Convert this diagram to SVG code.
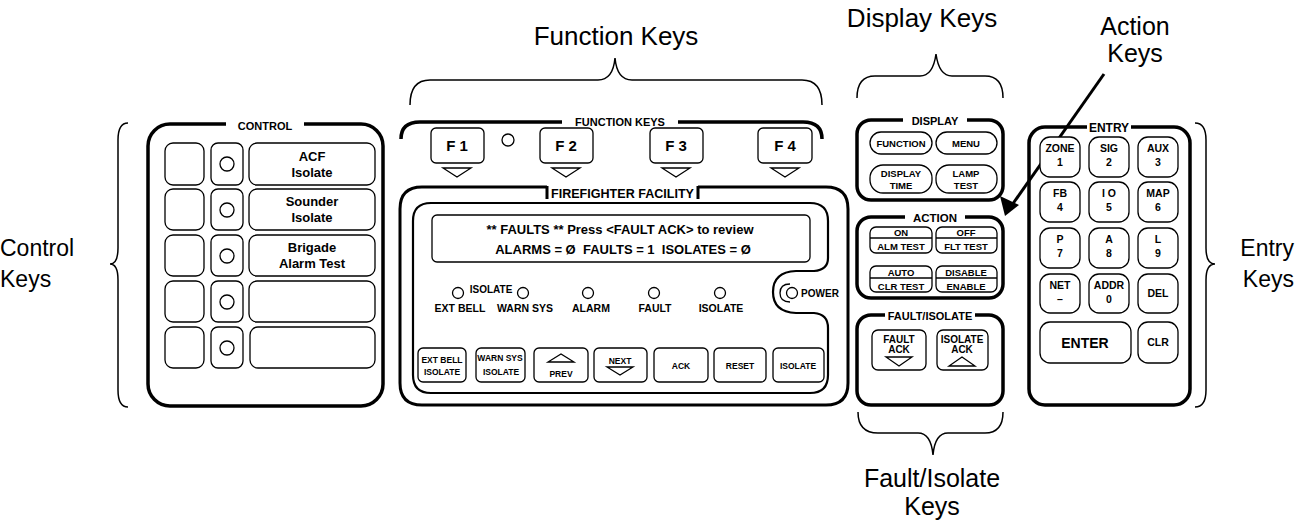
<svg xmlns="http://www.w3.org/2000/svg" width="1295" height="521" viewBox="0 0 1295 521">
<style>
.lbl{font-family:"Liberation Sans",Arial,sans-serif;fill:#000}
.b{font-family:"Liberation Sans",Arial,sans-serif;font-weight:bold;fill:#000;text-anchor:middle}
.frame{fill:none;stroke:#000;stroke-width:3.5}
.key{fill:#fff;stroke:#000;stroke-width:1.3}
.thin{fill:none;stroke:#000;stroke-width:1.3}
.brace{fill:none;stroke:#000;stroke-width:1.5}
.gap{fill:#fff;stroke:none}
</style>
<rect width="1295" height="521" fill="#fff"/>

<!-- outer labels -->
<g id="labels">
<text class="lbl" x="0" y="256" font-size="23">Control</text>
<text class="lbl" x="0" y="287" font-size="23">Keys</text>
<text class="lbl" x="616" y="45" font-size="26" text-anchor="middle">Function Keys</text>
<text class="lbl" x="922" y="27" font-size="26" text-anchor="middle">Display Keys</text>
<text class="lbl" x="1135" y="35" font-size="25" text-anchor="middle">Action</text>
<text class="lbl" x="1135" y="62" font-size="25" text-anchor="middle">Keys</text>
<text class="lbl" x="1294" y="256" font-size="23" text-anchor="end">Entry</text>
<text class="lbl" x="1294" y="287" font-size="23" text-anchor="end">Keys</text>
<text class="lbl" x="932" y="487" font-size="25" text-anchor="middle">Fault/Isolate</text>
<text class="lbl" x="932" y="515" font-size="25" text-anchor="middle">Keys</text>
</g>

<!-- braces -->
<g id="braces">
<path class="brace" d="M128,123 Q118,123 118,140 V248 Q118,264 110,264 Q118,264 118,280 V390 Q118,407 128,407"/>
<path class="brace" d="M410,105 Q410,80 430,80 H598 Q613,80 615,58 Q617,80 632,80 H802 Q822,80 822,105"/>
<path class="brace" d="M857,98 Q857,76 875,76 H920 Q933,76 936,54 Q939,76 952,76 H985 Q1003,76 1003,98"/>
<path class="brace" d="M858,412 Q858,433 878,433 H918 Q931,433 933,455 Q935,433 948,433 H985 Q1003,433 1003,412"/>
<path class="brace" d="M1195,123 Q1206,123 1206,140 V248 Q1206,264 1215,264 Q1206,264 1206,280 V390 Q1206,407 1195,407"/>
</g>

<!-- connectors -->
<g id="connectors">
<line x1="1104" y1="74" x2="1012" y2="205" stroke="#000" stroke-width="3"/>
<path d="M1005,216 L1000,196 L1019,205 Z" fill="#000"/>
</g>

<!-- CONTROL -->
<g id="control">
<rect class="frame" x="148" y="124" width="235" height="282" rx="22"/>
<rect class="gap" x="226" y="118" width="78" height="12"/>
<text class="b" x="265" y="130" font-size="11">CONTROL</text>
<g id="ctl-row1">
<rect class="key" x="165" y="143" width="39" height="42" rx="8"/><rect class="key" x="211" y="143" width="32" height="42" rx="7"/><circle class="thin" cx="227" cy="164" r="7"/>
<rect class="key" x="249" y="143" width="126" height="42" rx="8"/>
<text class="b" x="312" y="161" font-size="13">ACF</text><text class="b" x="312" y="177" font-size="13">Isolate</text>
</g>
<g id="ctl-row2">
<rect class="key" x="165" y="189" width="39" height="41" rx="8"/><rect class="key" x="211" y="189" width="32" height="41" rx="7"/><circle class="thin" cx="227" cy="210" r="7"/>
<rect class="key" x="249" y="189" width="126" height="41" rx="8"/>
<text class="b" x="312" y="206" font-size="13">Sounder</text><text class="b" x="312" y="222" font-size="13">Isolate</text>
</g>
<g id="ctl-row3">
<rect class="key" x="165" y="235" width="39" height="41" rx="8"/><rect class="key" x="211" y="235" width="32" height="41" rx="7"/><circle class="thin" cx="227" cy="256" r="7"/>
<rect class="key" x="249" y="235" width="126" height="41" rx="8"/>
<text class="b" x="312" y="252" font-size="13">Brigade</text><text class="b" x="312" y="268" font-size="13">Alarm Test</text>
</g>
<g id="ctl-row4">
<rect class="key" x="165" y="281" width="39" height="41" rx="8"/><rect class="key" x="211" y="281" width="32" height="41" rx="7"/><circle class="thin" cx="227" cy="302" r="7"/>
<rect class="key" x="249" y="281" width="126" height="41" rx="8"/>
</g>
<g id="ctl-row5">
<rect class="key" x="165" y="327" width="39" height="41" rx="8"/><rect class="key" x="211" y="327" width="32" height="41" rx="7"/><circle class="thin" cx="227" cy="348" r="7"/>
<rect class="key" x="250" y="327" width="125" height="41" rx="8"/>
</g>
</g>

<!-- FUNCTION KEYS -->
<g id="function-keys">
<path class="frame" d="M401,139 Q401,122 420,122 H562 M678,122 H803 Q822,122 822,139"/>
<text class="b" x="620" y="126" font-size="11">FUNCTION KEYS</text>
<circle class="thin" cx="508" cy="140" r="6"/>
<g id="f1"><rect class="key" x="431" y="128" width="53" height="35" rx="5"/><text class="b" x="457" y="151" font-size="15">F 1</text><path class="thin" d="M443,168 H471 L457,177 Z"/></g>
<g id="f2"><rect class="key" x="540" y="128" width="53" height="35" rx="5"/><text class="b" x="566" y="151" font-size="15">F 2</text><path class="thin" d="M552,168 H580 L566,177 Z"/></g>
<g id="f3"><rect class="key" x="650" y="128" width="53" height="35" rx="5"/><text class="b" x="676" y="151" font-size="15">F 3</text><path class="thin" d="M662,168 H690 L676,177 Z"/></g>
<g id="f4"><rect class="key" x="758" y="128" width="54" height="35" rx="5"/><text class="b" x="785" y="151" font-size="15">F 4</text><path class="thin" d="M771,168 H799 L785,177 Z"/></g>
</g>

<!-- FIREFIGHTER FACILITY -->
<g id="firefighter">
<path fill="none" stroke="#000" stroke-width="3" d="M547,187 H422 Q400,187 400,209 V383 Q400,405 422,405 H826 Q848,405 848,383 V209 Q848,187 826,187 H698"/>
<path fill="none" stroke="#000" stroke-width="3" d="M547,186 V199 M698,186 V199"/>
<path fill="none" stroke="#000" stroke-width="2.2" d="M431,203 H810 Q828,203 828,221 V258 Q828,270 814,271 H796 Q773,272 773,292 Q773,312 796,313 H814 Q828,314 828,328 V375 Q828,393 810,393 H431 Q413,393 413,375 V221 Q413,203 431,203 Z"/>
<text class="b" x="622.5" y="198" font-size="13.5" textLength="143" lengthAdjust="spacingAndGlyphs">FIREFIGHTER FACILITY</text>
<rect class="key" x="432" y="215" width="378" height="47" rx="5"/>
<text class="b" x="620" y="234" font-size="13">** FAULTS ** Press &lt;FAULT ACK&gt; to review</text>
<text class="b" x="623" y="254" font-size="13" xml:space="preserve">ALARMS = Ø  FAULTS = 1  ISOLATES = Ø</text>
<circle class="thin" cx="458" cy="293" r="5.5"/>
<circle class="thin" cx="523" cy="293" r="5.5"/>
<circle class="thin" cx="588" cy="293" r="5.5"/>
<circle class="thin" cx="654" cy="293" r="5.5"/>
<circle class="thin" cx="720" cy="293" r="5.5"/>
<text class="b" x="491" y="293" font-size="10">ISOLATE</text>
<text class="b" x="460" y="312" font-size="10.5">EXT BELL</text>
<text class="b" x="525" y="312" font-size="10.5">WARN SYS</text>
<text class="b" x="591" y="312" font-size="10.5">ALARM</text>
<text class="b" x="655" y="312" font-size="10.5">FAULT</text>
<text class="b" x="721" y="312" font-size="10.5">ISOLATE</text>
<path class="thin" d="M790,284 Q780,284 780,293 Q780,302 790,302"/>
<circle class="thin" cx="792" cy="293" r="5.5"/>
<text class="b" x="820" y="297" font-size="10">POWER</text>
<g id="ff-buttons">
<rect class="key" x="418" y="348" width="48" height="34" rx="5"/><text class="b" x="442" y="363" font-size="8.5">EXT BELL</text><text class="b" x="442" y="375" font-size="8.5">ISOLATE</text>
<rect class="key" x="476" y="348" width="49" height="34" rx="5"/><text class="b" x="500" y="361" font-size="8.5">WARN SYS</text><text class="b" x="501" y="375" font-size="8.5">ISOLATE</text>
<rect class="key" x="534" y="348" width="54" height="34" rx="5"/><path class="thin" d="M548,362 H574 L561,354 Z"/><text class="b" x="561" y="377" font-size="8.5">PREV</text>
<rect class="key" x="594" y="348" width="53" height="34" rx="5"/><text class="b" x="620" y="364" font-size="8.5">NEXT</text><path class="thin" d="M607,367 H633 L620,375 Z"/>
<rect class="key" x="654" y="348" width="54" height="34" rx="5"/><text class="b" x="681" y="369" font-size="8.5">ACK</text>
<rect class="key" x="714" y="348" width="52" height="34" rx="5"/><text class="b" x="740" y="369" font-size="8.5">RESET</text>
<rect class="key" x="773" y="348" width="51" height="34" rx="5"/><text class="b" x="798" y="369" font-size="8.5">ISOLATE</text>
</g>
</g>

<!-- DISPLAY -->
<g id="display">
<rect class="frame" x="857" y="120" width="146" height="80" rx="14"/>
<rect class="gap" x="903" y="114" width="64" height="12"/>
<text class="b" x="935" y="125" font-size="11">DISPLAY</text>
<rect class="key" x="870" y="132" width="62" height="22" rx="11"/><text class="b" x="901" y="147" font-size="9.5">FUNCTION</text>
<rect class="key" x="936" y="132" width="61" height="22" rx="11"/><text class="b" x="966" y="147" font-size="9.5">MENU</text>
<rect class="key" x="870" y="165" width="62" height="28" rx="13"/><text class="b" x="901" y="177" font-size="9.5">DISPLAY</text><text class="b" x="901" y="189" font-size="9.5">TIME</text>
<rect class="key" x="936" y="165" width="61" height="28" rx="13"/><text class="b" x="966" y="177" font-size="9.5">LAMP</text><text class="b" x="966" y="189" font-size="9.5">TEST</text>
</g>

<!-- ACTION -->
<g id="action">
<rect class="frame" x="857" y="217" width="146" height="81" rx="14"/>
<rect class="gap" x="905" y="211" width="60" height="12"/>
<text class="b" x="935" y="222" font-size="11.5">ACTION</text>
<rect class="key" x="870" y="227" width="62" height="26" rx="6"/><line class="thin" x1="870" y1="238" x2="932" y2="238"/><text class="b" x="901" y="236" font-size="9.5">ON</text><text class="b" x="901" y="250" font-size="9.5">ALM TEST</text>
<rect class="key" x="936" y="227" width="61" height="26" rx="6"/><line class="thin" x1="936" y1="238" x2="997" y2="238"/><text class="b" x="966" y="236" font-size="9.5">OFF</text><text class="b" x="966" y="250" font-size="9.5">FLT TEST</text>
<rect class="key" x="870" y="266" width="62" height="26" rx="6"/><line class="thin" x1="870" y1="278" x2="932" y2="278"/><text class="b" x="901" y="276" font-size="9.5">AUTO</text><text class="b" x="901" y="290" font-size="9.5">CLR TEST</text>
<rect class="key" x="936" y="266" width="61" height="26" rx="6"/><line class="thin" x1="936" y1="278" x2="997" y2="278"/><text class="b" x="966" y="276" font-size="9.5">DISABLE</text><text class="b" x="966" y="290" font-size="9.5">ENABLE</text>
</g>

<!-- FAULT/ISOLATE -->
<g id="fault-isolate">
<rect class="frame" x="857" y="315" width="146" height="90" rx="14"/>
<rect class="gap" x="885" y="309" width="90" height="12"/>
<text class="b" x="930" y="320" font-size="11">FAULT/ISOLATE</text>
<rect class="key" x="872" y="330" width="54" height="40" rx="6"/><text class="b" x="899" y="343" font-size="10">FAULT</text><text class="b" x="899" y="353" font-size="10">ACK</text><path class="thin" d="M886,357 H912 L899,366 Z"/>
<rect class="key" x="937" y="330" width="51" height="40" rx="6"/><text class="b" x="962" y="343" font-size="10">ISOLATE</text><text class="b" x="962" y="353" font-size="10">ACK</text><path class="thin" d="M949,366 H975 L962,357 Z"/>
</g>

<!-- ENTRY -->
<g id="entry">
<rect class="frame" x="1029" y="127" width="161" height="278" rx="16"/>
<rect class="gap" x="1087" y="121" width="44" height="12"/>
<text class="b" x="1109" y="132" font-size="12">ENTRY</text>
<rect class="key" x="1040" y="137" width="40" height="40" rx="10"/><text class="b" x="1060" y="152" font-size="10.5">ZONE</text><text class="b" x="1060" y="166" font-size="10.5">1</text>
<rect class="key" x="1089" y="137" width="40" height="40" rx="10"/><text class="b" x="1109" y="152" font-size="10.5">SIG</text><text class="b" x="1109" y="166" font-size="10.5">2</text>
<rect class="key" x="1138" y="137" width="40" height="40" rx="10"/><text class="b" x="1158" y="152" font-size="10.5">AUX</text><text class="b" x="1158" y="166" font-size="10.5">3</text>
<rect class="key" x="1040" y="182" width="40" height="40" rx="10"/><text class="b" x="1060" y="197" font-size="10.5">FB</text><text class="b" x="1060" y="211" font-size="10.5">4</text>
<rect class="key" x="1089" y="182" width="40" height="40" rx="10"/><text class="b" x="1109" y="197" font-size="10.5">I O</text><text class="b" x="1109" y="211" font-size="10.5">5</text>
<rect class="key" x="1138" y="182" width="40" height="40" rx="10"/><text class="b" x="1158" y="197" font-size="10.5">MAP</text><text class="b" x="1158" y="211" font-size="10.5">6</text>
<rect class="key" x="1040" y="228" width="40" height="40" rx="10"/><text class="b" x="1060" y="243" font-size="10.5">P</text><text class="b" x="1060" y="257" font-size="10.5">7</text>
<rect class="key" x="1089" y="228" width="40" height="40" rx="10"/><text class="b" x="1109" y="243" font-size="10.5">A</text><text class="b" x="1109" y="257" font-size="10.5">8</text>
<rect class="key" x="1138" y="228" width="40" height="40" rx="10"/><text class="b" x="1158" y="243" font-size="10.5">L</text><text class="b" x="1158" y="257" font-size="10.5">9</text>
<rect class="key" x="1040" y="274" width="40" height="39" rx="10"/><text class="b" x="1060" y="289" font-size="10.5">NET</text><text class="b" x="1060" y="303" font-size="10.5">–</text>
<rect class="key" x="1089" y="274" width="40" height="39" rx="10"/><text class="b" x="1109" y="289" font-size="10.5">ADDR</text><text class="b" x="1109" y="303" font-size="10.5">0</text>
<rect class="key" x="1138" y="274" width="40" height="39" rx="10"/><text class="b" x="1158" y="297" font-size="10.5">DEL</text>
<rect class="key" x="1040" y="322" width="91" height="41" rx="10"/><text class="b" x="1085" y="348" font-size="14">ENTER</text>
<rect class="key" x="1138" y="322" width="40" height="41" rx="10"/><text class="b" x="1158" y="346" font-size="10.5">CLR</text>
</g>
</svg>
